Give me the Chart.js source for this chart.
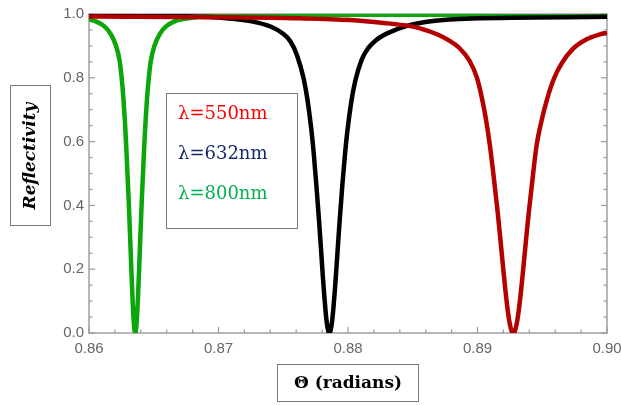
<!DOCTYPE html>
<html>
<head>
<meta charset="utf-8">
<script src="https://cdn.jsdelivr.net/npm/chart.js@4.4.1/dist/chart.umd.min.js"></script>
<style>
  html, body { margin: 0; padding: 0; background: #fff; }
  #wrap { width: 621px; height: 405px; }
</style>
</head>
<body>
<div id="wrap"><canvas id="chartRefl" width="621" height="405"></canvas></div>
<script>
// values (dense around each resonance dip)
const theta800 = [0.86000, 0.86057, 0.86117, 0.86167, 0.86207, 0.86237, 0.86257, 0.86267, 0.86277, 0.86287, 0.86297,
  0.86307, 0.86317, 0.86327, 0.86337, 0.86342, 0.86347, 0.86352, 0.86357, 0.86362, 0.86367, 0.86372, 0.86377,
  0.86387, 0.86397, 0.86407, 0.86417, 0.86427, 0.86437, 0.86447, 0.86457, 0.86477, 0.86507, 0.86547, 0.86597,
  0.86657, 0.86714, 0.86807, 0.87007, 0.87357, 0.88000, 0.89000, 0.90000];
const refl800 = [0.983, 0.976, 0.962, 0.938, 0.902, 0.852, 0.779, 0.728, 0.666, 0.590, 0.500,
  0.410, 0.308, 0.200, 0.100, 0.059, 0.027, 0.007, 0.000, 0.007, 0.027, 0.059, 0.100,
  0.200, 0.308, 0.410, 0.500, 0.590, 0.666, 0.728, 0.779, 0.852, 0.902, 0.938, 0.962,
  0.976, 0.983, 0.989, 0.995, 0.998, 0.998, 0.998, 0.998];

const theta632 = [0.86000, 0.86756, 0.87056, 0.87256, 0.87406, 0.87496, 0.87556, 0.87606, 0.87656, 0.87686, 0.87716,
  0.87736, 0.87756, 0.87776, 0.87796, 0.87806, 0.87816, 0.87826, 0.87836, 0.87846, 0.87856, 0.87866, 0.87876,
  0.87886, 0.87896, 0.87906, 0.87916, 0.87936, 0.87956, 0.87976, 0.87996, 0.88026, 0.88056, 0.88106, 0.88156,
  0.88216, 0.88306, 0.88456, 0.88656, 0.88956, 0.90000];
const refl632 = [0.997, 0.993, 0.987, 0.977, 0.960, 0.939, 0.914, 0.871, 0.800, 0.734, 0.641,
  0.560, 0.462, 0.354, 0.236, 0.176, 0.121, 0.072, 0.033, 0.0085, 0.000, 0.0085, 0.033,
  0.072, 0.121, 0.176, 0.236, 0.354, 0.462, 0.557, 0.636, 0.726, 0.790, 0.857, 0.893,
  0.918, 0.940, 0.963, 0.978, 0.986, 0.991];

const theta550 = [0.86000, 0.86996, 0.87626, 0.88016, 0.88276, 0.88480, 0.88556, 0.88696, 0.88776, 0.88856, 0.88936,
  0.88996, 0.89036, 0.89066, 0.89096, 0.89126, 0.89156, 0.89176, 0.89196, 0.89216, 0.89226, 0.89236, 0.89246,
  0.89256, 0.89266, 0.89276, 0.89286, 0.89296, 0.89306, 0.89316, 0.89326, 0.89336, 0.89356, 0.89376, 0.89396,
  0.89426, 0.89456, 0.89496, 0.89536, 0.89586, 0.89650, 0.89740, 0.89843, 0.89946, 0.90000];
const refl550 = [0.992, 0.990, 0.9865, 0.981, 0.972, 0.962, 0.955, 0.935, 0.918, 0.895, 0.855,
  0.800, 0.733, 0.668, 0.587, 0.487, 0.378, 0.297, 0.2125, 0.132, 0.0953, 0.063, 0.0366,
  0.0166, 0.0042, 0.000, 0.0042, 0.0166, 0.0366, 0.063, 0.0953, 0.132, 0.2125, 0.297, 0.378,
  0.487, 0.587, 0.668, 0.731, 0.793, 0.845, 0.892, 0.921, 0.936, 0.941];

const xTicks = [0.86, 0.87, 0.88, 0.89, 0.90];
const yTicks = [0.0, 0.2, 0.4, 0.6, 0.8, 1.0];
const legendLabels = ["λ=550nm", "λ=632nm", "λ=800nm"];
const legendColors = ["#ff0000", "#12296a", "#00b050"];

const xTitle = "Θ (radians)";
const yTitle = "Reflectivity";

const frameGray = "#9a9a9a";
const labelGray = "#666666";

function pairs(xs, ys) {
  return xs.map((v, i) => ({ x: v, y: ys[i] }));
}

const decor = {
  id: "decor",
  beforeDatasetsDraw(chart) {
    const { ctx, chartArea: a, scales } = chart;
    const sx = scales.x, sy = scales.y;
    ctx.save();
    ctx.strokeStyle = frameGray;
    ctx.lineWidth = 1.4;
    ctx.strokeRect(a.left, a.top, a.right - a.left, a.bottom - a.top);

    ctx.lineWidth = 1.2;
    const tick = (x1, y1, x2, y2) => {
      ctx.beginPath();
      ctx.moveTo(x1, y1);
      ctx.lineTo(x2, y2);
      ctx.stroke();
    };
    // x ticks, inward on bottom and top
    for (let i = 0; i < xTicks.length; i++) {
      const px = sx.getPixelForValue(xTicks[i]);
      tick(px, a.bottom, px, a.bottom - 6);
      tick(px, a.top, px, a.top + 6);
      if (i < xTicks.length - 1) {
        for (let k = 1; k < 5; k++) {
          const m = sx.getPixelForValue(xTicks[i] + (xTicks[i + 1] - xTicks[i]) * k / 5);
          tick(m, a.bottom, m, a.bottom - 3.5);
          tick(m, a.top, m, a.top + 3.5);
        }
      }
    }
    // y ticks, inward on left and right
    for (let i = 0; i < yTicks.length; i++) {
      const py = sy.getPixelForValue(yTicks[i]);
      tick(a.left, py, a.left + 6, py);
      tick(a.right, py, a.right - 6, py);
      if (i < yTicks.length - 1) {
        for (let k = 1; k < 4; k++) {
          const m = sy.getPixelForValue(yTicks[i] + (yTicks[i + 1] - yTicks[i]) * k / 4);
          tick(a.left, m, a.left + 3.5, m);
          tick(a.right, m, a.right - 3.5, m);
        }
      }
    }
    ctx.restore();
  },
  afterDraw(chart) {
    const ctx = chart.ctx;
    ctx.save();
    ctx.strokeStyle = "#7a7a7a";
    ctx.lineWidth = 1;

    // legend box
    ctx.fillStyle = "#fff";
    ctx.fillRect(166.5, 93.5, 131, 135);
    ctx.strokeRect(166.5, 93.5, 131, 135);
    ctx.font = "18px 'DejaVu Serif'";
    ctx.textBaseline = "middle";
    ctx.textAlign = "left";
    legendLabels.forEach((t, i) => {
      ctx.fillStyle = legendColors[i];
      ctx.fillText(t, 178, 114 + i * 40);
    });

    // y title box
    ctx.strokeRect(10.5, 85.5, 40, 140);
    ctx.save();
    ctx.translate(31, 156);
    ctx.rotate(-Math.PI / 2);
    ctx.fillStyle = "#000";
    ctx.textAlign = "center";
    ctx.font = "italic bold 17px 'DejaVu Serif'";
    ctx.fillText(yTitle, 0, 0);
    ctx.restore();

    // x title box
    ctx.strokeRect(277.5, 364.5, 141, 37);
    ctx.fillStyle = "#000";
    ctx.textAlign = "center";
    ctx.font = "bold 17px 'DejaVu Serif'";
    ctx.fillText(xTitle, 348, 384);
    ctx.restore();
  }
};

const series = [
  { data: pairs(theta550, refl550), borderColor: "#b40000" },
  { data: pairs(theta632, refl632), borderColor: "#000000" },
  { data: pairs(theta800, refl800), borderColor: "#0aa60a" }
];

new Chart(document.getElementById("chartRefl"), {
  type: "line",
  data: {
    datasets: series.map((s) => ({
      data: s.data,
      borderColor: s.borderColor,
      borderWidth: 4.5,
      pointRadius: 0,
      fill: false,
      cubicInterpolationMode: "monotone"
    }))
  },
  options: {
    responsive: false,
    devicePixelRatio: 1,
    animation: false,
    layout: { padding: { top: 14, right: 14, left: 0, bottom: 0 } },
    plugins: {
      legend: { display: false },
      tooltip: { enabled: false }
    },
    scales: {
      x: {
        type: "linear",
        min: 0.86,
        max: 0.90,
        afterBuildTicks: (s) => { s.ticks = xTicks.map((v) => ({ value: v })); },
        afterFit: (s) => { s.height = 72; s.paddingLeft = 0; s.paddingRight = 0; },
        grid: { display: false, drawTicks: false },
        border: { display: false },
        ticks: {
          color: labelGray,
          padding: 7,
          font: { family: "'Liberation Sans', Arial", size: 15 },
          callback: (v) => Number(v).toFixed(2)
        }
      },
      y: {
        min: 0,
        max: 1,
        afterBuildTicks: (s) => { s.ticks = yTicks.map((v) => ({ value: v })); },
        afterFit: (s) => { s.width = 89; },
        grid: { display: false, drawTicks: false },
        border: { display: false },
        ticks: {
          color: labelGray,
          padding: 5,
          font: { family: "'Liberation Sans', Arial", size: 15 },
          callback: (v) => Number(v).toFixed(1)
        }
      }
    }
  },
  plugins: [decor]
});
</script>
</body>
</html>
